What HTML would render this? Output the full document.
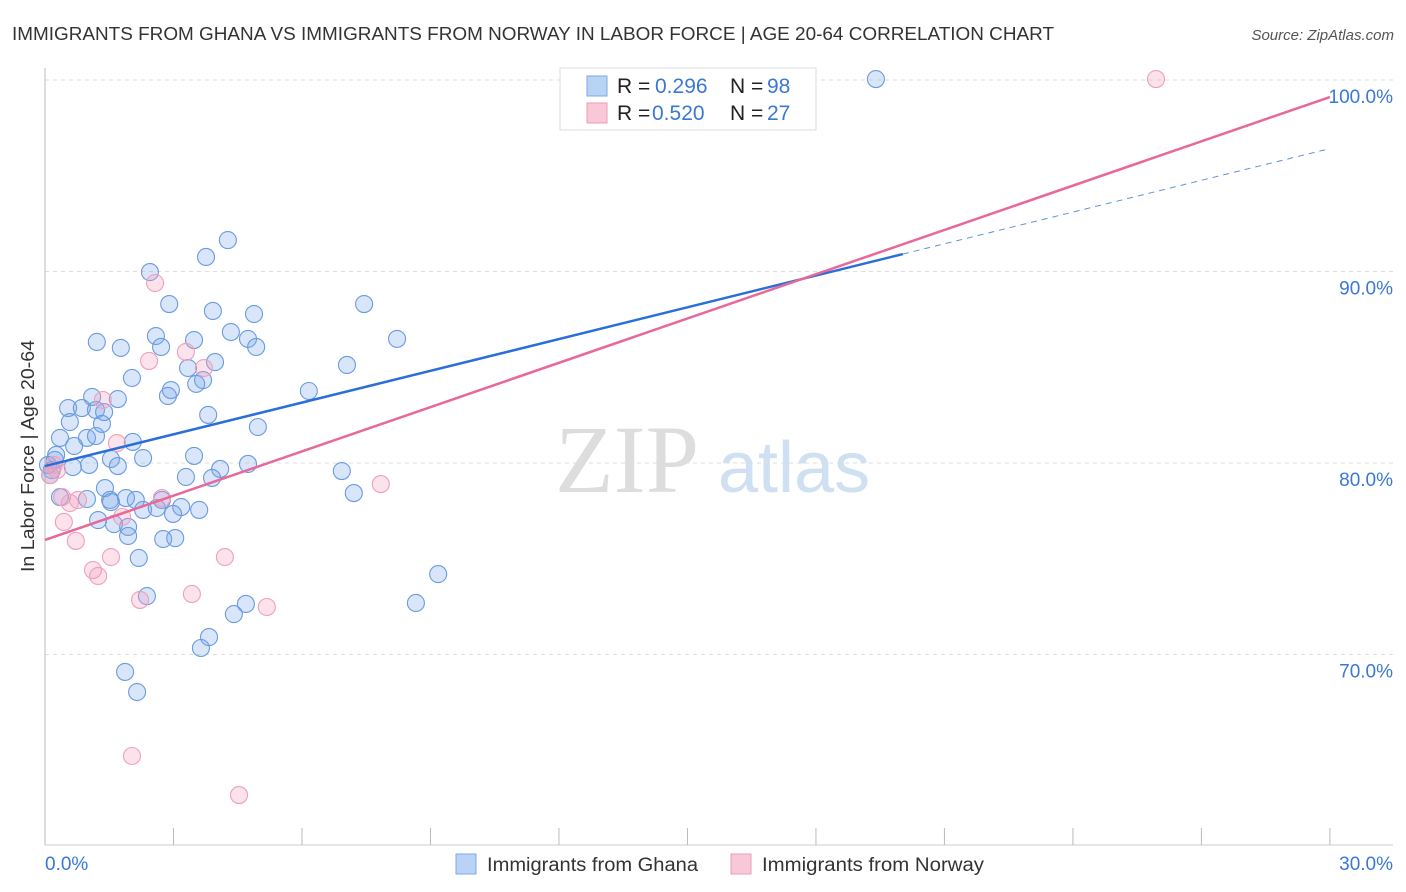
<!DOCTYPE html>
<html><head><meta charset="utf-8"><style>
body{margin:0;background:#fff;font-family:"Liberation Sans",sans-serif;}
#wrap{position:relative;width:1406px;height:892px;overflow:hidden;}
</style></head><body>
<div id="wrap">
<svg id="svg" width="1406" height="892" xmlns="http://www.w3.org/2000/svg">
<text x="12" y="40" font-size="18" fill="#333" textLength="1042" lengthAdjust="spacingAndGlyphs">IMMIGRANTS FROM GHANA VS IMMIGRANTS FROM NORWAY IN LABOR FORCE | AGE 20-64 CORRELATION CHART</text>
<text x="1394" y="40" font-size="15" fill="#555" font-style="italic" text-anchor="end">Source: ZipAtlas.com</text>
<text x="555" y="492" font-size="96" fill="#ddd" font-family="Liberation Serif,serif">ZIP</text>
<text x="718" y="492" font-size="72" fill="#cfe0f3">atlas</text>
<text transform="translate(34,456) rotate(-90)" font-size="18" fill="#333" text-anchor="middle" textLength="232" lengthAdjust="spacingAndGlyphs">In Labor Force | Age 20-64</text>
<g id="grid"></g><g id="axes"></g><g id="pts"></g><g id="lines"></g>
<g>
<rect x="560" y="68" width="256" height="62" fill="#fff" stroke="#ddd"/>
<rect x="587" y="76" width="20" height="20" fill="#b9d3f5" stroke="#7fa8e0"/>
<rect x="587" y="103" width="20" height="20" fill="#f9c8d8" stroke="#ec9cb6"/>
<text x="617" y="93" font-size="21" fill="#222">R = <tspan x="655" fill="#3a78d4">0.296</tspan><tspan x="730">N = </tspan><tspan x="767" fill="#3a78d4">98</tspan></text>
<text x="617" y="120" font-size="21" fill="#222">R = <tspan x="652" fill="#3a78d4">0.520</tspan><tspan x="730">N = </tspan><tspan x="767" fill="#3a78d4">27</tspan></text>
</g>
<g>
<rect x="456" y="854" width="20" height="20" fill="#b9d3f5" stroke="#7fa8e0"/>
<text x="487" y="871" font-size="19" fill="#333" textLength="211" lengthAdjust="spacingAndGlyphs">Immigrants from Ghana</text>
<rect x="731" y="854" width="20" height="20" fill="#f9c8d8" stroke="#ec9cb6"/>
<text x="762" y="871" font-size="19" fill="#333" textLength="222" lengthAdjust="spacingAndGlyphs">Immigrants from Norway</text>
</g>
</svg>
</div>
<script>
const ghanaX=[19.40,4.27,3.76,2.45,2.90,7.45,3.92,4.88,2.59,3.48,4.34,1.21,8.22,4.74,2.71,4.93,1.77,3.34,3.97,7.05,2.03,3.69,3.53,2.94,2.87,6.16,1.10,1.70,0.54,0.86,1.19,1.38,3.81,4.97,0.58,1.33,0.98,2.05,0.35,0.68,1.19,1.54,2.29,3.48,4.09,4.74,6.93,1.03,1.70,0.65,0.23,3.29,3.90,7.21,1.40,0.35,0.98,1.52,1.89,2.12,2.73,1.54,2.29,3.18,2.61,3.60,2.99,1.94,1.24,1.61,1.94,2.76,3.04,2.19,9.18,2.38,4.69,4.41,8.66,3.83,3.64,1.87,2.15,0.07,0.16,0.26,0.12];
const ghanaY=[100.05,91.64,90.76,89.97,88.30,88.30,87.94,87.78,86.63,86.42,86.84,86.32,86.48,86.48,86.06,86.06,86.01,84.96,85.27,85.12,84.44,84.33,84.13,83.81,83.50,83.76,83.45,83.34,82.87,82.87,82.77,82.66,82.51,81.88,82.14,82.04,81.31,81.10,81.31,80.89,81.41,80.21,80.26,80.37,79.69,79.95,79.58,79.90,79.84,79.79,80.16,79.27,79.22,78.43,78.69,78.22,78.12,78.07,78.17,78.07,78.07,77.96,77.55,77.70,77.65,77.55,77.34,76.66,77.02,76.81,76.19,76.03,76.08,75.04,74.20,73.05,72.64,72.11,72.69,70.91,70.34,69.09,68.04,79.90,79.63,80.42,79.37];
const norwayX=[25.94,2.57,3.29,2.43,3.71,1.35,1.68,0.77,0.58,0.40,0.44,2.73,1.80,0.72,4.20,1.54,1.12,1.24,2.22,3.43,5.18,7.84,2.03,4.53,0.28,0.12,0.21];
const norwayY=[100.05,89.40,85.80,85.33,84.96,83.29,81.04,78.07,77.91,78.22,76.92,78.17,77.18,75.93,75.09,75.09,74.41,74.10,72.85,73.16,72.48,78.90,64.70,62.66,79.63,79.37,79.90];
const yTicks=[100,90,80,70];
const yTickLabels=["100.0%","90.0%","80.0%","70.0%"];
const ghanaLine=[79.84,96.42]; // y at x=0 and x=30
const ghanaSolidEnd=20.03;
const norwayLine=[75.98,99.11];
const NS="http://www.w3.org/2000/svg";
const sx=v=>45+v*42.83;
const sy=v=>80+(100-v)*19.15;
function mk(tag,parent,attrs){const e=document.createElementNS(NS,tag);for(const k in attrs)e.setAttribute(k,attrs[k]);document.getElementById(parent).appendChild(e);return e;}
yTicks.forEach((t,i)=>{
 const g=mk('line','grid',{x1:45,x2:1393,y1:sy(t),y2:sy(t),stroke:'#ddd','stroke-dasharray':'4,4'});
 
 
 const tx=mk('text','grid',{x:1393,y:sy(t)+23,'font-size':19,fill:'#3a78d4','text-anchor':'end'});
 tx.textContent=yTickLabels[i];
 
 
});
const ya=mk('line','axes',{x1:45,x2:45,y1:68,y2:845,stroke:'#bbb'});


const xa=mk('line','axes',{x1:45,x2:1393,y1:845,y2:845,stroke:'#ccc'});


for(let i=0;i<=10;i++){
 const t=mk('line','axes',{x1:sx(i*3),x2:sx(i*3),y1:828,y2:845,stroke:'#bbb'});
 
 
}
const xl0=mk('text','axes',{x:45,y:870,'font-size':19,fill:'#3a78d4'});xl0.textContent='0.0%';


const xl1=mk('text','axes',{x:1393,y:870,'font-size':19,fill:'#3a78d4','text-anchor':'end'});xl1.textContent='30.0%';


ghanaX.forEach((x,i)=>{
 const c=mk('circle','pts',{cx:sx(x),cy:sy(ghanaY[i]),r:8.5,fill:'rgba(120,165,235,0.28)',stroke:'#6a9be0','stroke-width':1.1});
 
 
});
norwayX.forEach((x,i)=>{
 const c=mk('circle','pts',{cx:sx(x),cy:sy(norwayY[i]),r:8.5,fill:'rgba(245,160,190,0.3)',stroke:'#eea0ba','stroke-width':1.1});
 
 
});
const gy=x=>ghanaLine[0]+(ghanaLine[1]-ghanaLine[0])*x/30;
const l1=mk('line','lines',{x1:sx(0),y1:sy(gy(0)),x2:sx(ghanaSolidEnd),y2:sy(gy(ghanaSolidEnd)),stroke:'#2a6fd8','stroke-width':2.5});


const l2=mk('line','lines',{x1:sx(ghanaSolidEnd),y1:sy(gy(ghanaSolidEnd)),x2:sx(30),y2:sy(gy(30)),stroke:'#5e93dc','stroke-width':1,'stroke-dasharray':'6,5'});


const l3=mk('line','lines',{x1:sx(0),y1:sy(norwayLine[0]),x2:sx(30),y2:sy(norwayLine[1]),stroke:'#e8689a','stroke-width':2.5});


</script>
</body></html>
